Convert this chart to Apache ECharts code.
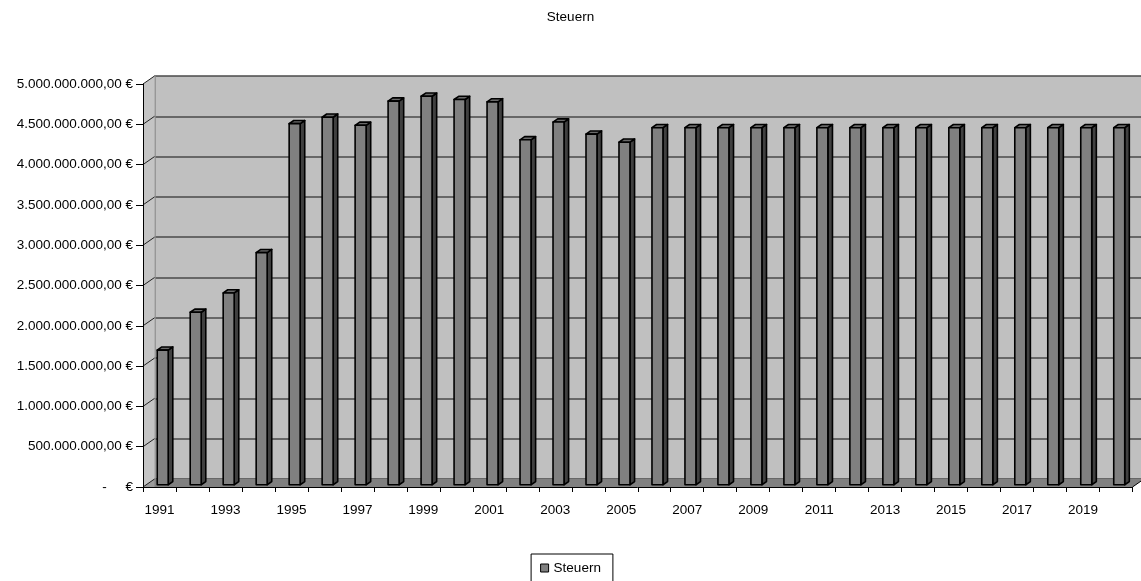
<!DOCTYPE html>
<html>
<head>
<meta charset="utf-8">
<script src="https://cdn.jsdelivr.net/npm/echarts@6/dist/echarts.min.js"></script>
<style>
html,body{margin:0;padding:0;background:#fff;}
#chart{width:1141px;height:581px;}
</style>
</head>
<body>
<div id="chart"></div>
<script>
// ---- data ----
const years = ['1991','1992','1993','1994','1995','1996','1997','1998','1999','2000',
               '2001','2002','2003','2004','2005','2006','2007','2008','2009','2010',
               '2011','2012','2013','2014','2015','2016','2017','2018','2019','2020'];
const steuern = [1.67e9, 2.14e9, 2.38e9, 2.88e9, 4.48e9, 4.56e9, 4.46e9, 4.76e9, 4.82e9, 4.78e9,
                 4.75e9, 4.28e9, 4.50e9, 4.35e9, 4.25e9, 4.43e9, 4.43e9, 4.43e9, 4.43e9, 4.43e9,
                 4.43e9, 4.43e9, 4.43e9, 4.43e9, 4.43e9, 4.43e9, 4.43e9, 4.43e9, 4.43e9, 4.43e9];
const seriesName = 'Steuern';
const titleText = 'Steuern';
const yMin = 0, yMax = 5e9, yInterval = 5e8;

// ---- 3D look constants (style) ----
const DX = 11.5, DY = -8;         // depth of the wall
const F1 = 0.28, F2 = 0.68;       // bar depth range
const BAR_FRAC = 0.333;
const FONT = '"Liberation Sans", Arial, sans-serif';

function fmtEuro(v) {
  if (v === 0) return '-     €';
  return Math.round(v).toString().replace(/\B(?=(\d{3})+(?!\d))/g, '.') + ',00 €';
}

const chart = echarts.init(document.getElementById('chart'), null, {renderer: 'canvas'});

function renderDecor(params, api) {
  const bw = api.size([1, 0])[0];
  const c0 = api.coord([0, yMin]);
  const cN = api.coord([years.length - 1, yMin]);
  const top = api.coord([0, yMax]);
  const xL = c0[0] - bw / 2;
  const xR = cN[0] + bw / 2;
  const yB = c0[1];
  const yT = top[1];
  const children = [];
  children.push({type: 'polygon', shape: {points: [[xL, yB], [xL, yT], [xL + DX, yT + DY], [xL + DX, yB + DY]]},
    style: {fill: '#c4c4c4', stroke: null}});
  children.push({type: 'polygon', shape: {points: [[xL, yB], [xR, yB], [xR + DX, yB + DY], [xL + DX, yB + DY]]},
    style: {fill: '#808080', stroke: null}});
  children.push({type: 'polygon', shape: {points: [[xL, yB], [xL + DX, yB + DY], [xL + DX, yB]]},
    style: {fill: '#9a9a9a', stroke: null}});
  for (let v = yMin; v <= yMax + 1; v += yInterval) {
    const p = api.coord([0, v]);
    children.push({type: 'line', shape: {x1: xL, y1: p[1], x2: xL + DX, y2: p[1] + DY},
      style: {stroke: '#222', lineWidth: 1}});
  }
  children.push({type: 'line', shape: {x1: xR, y1: yB, x2: xR + DX, y2: yB + DY},
    style: {stroke: '#000', lineWidth: 1}});
  return {type: 'group', children};
}

function renderBar(params, api) {
  const i = api.value(0);
  const v = api.value(1);
  const bw = api.size([1, 0])[0];
  const c0 = api.coord([i, 0]);
  const c1 = api.coord([i, v]);
  const w = bw * BAR_FRAC;
  const o1x = DX * F1, o1y = DY * F1;
  const ddx = DX * (F2 - F1), ddy = DY * (F2 - F1);
  const left = c0[0] + o1x - w / 2;
  const yTop = c1[1] + o1y;
  const yBot = c0[1] + o1y;
  const st = {stroke: '#000', lineWidth: 1.6, lineJoin: 'round'};
  return {
    type: 'group',
    children: [
      {type: 'polygon', shape: {points: [[left + w, yTop], [left + w + ddx, yTop + ddy], [left + w + ddx, yBot + ddy], [left + w, yBot]]},
        style: Object.assign({fill: '#404040'}, st)},
      {type: 'polygon', shape: {points: [[left, yTop], [left + w, yTop], [left + w + ddx, yTop + ddy], [left + ddx, yTop + ddy]]},
        style: Object.assign({fill: '#6a6a6a'}, st)},
      {type: 'rect', shape: {x: left, y: yTop, width: w, height: yBot - yTop},
        style: Object.assign({fill: '#808080'}, st)}
    ]
  };
}

const option = {
  animation: false,
  backgroundColor: '#ffffff',
  title: {
    text: titleText, left: 'center', top: 5,
    textStyle: {fontFamily: FONT, fontSize: 13.5, fontWeight: 'normal', color: '#000'}
  },
  legend: {
    top: 554, left: 'center',
    data: [{name: seriesName, icon: 'rect', itemStyle: {color: '#808080', borderColor: '#000', borderWidth: 1}}],
    itemWidth: 8, itemHeight: 8, itemGap: 6,
    borderColor: '#000', borderWidth: 1, padding: [7, 12, 7, 9],
    textStyle: {fontFamily: FONT, fontSize: 13.5, color: '#000'}
  },
  grid: [
    {left: 143, right: 8.5, top: 84, bottom: 94, containLabel: false},
    {left: 143 + DX, right: 8.5 - DX, top: 84 + DY, bottom: 94 - DY, show: true, backgroundColor: '#c0c0c0', borderWidth: 0, containLabel: false}
  ],
  xAxis: [
    {type: 'category', gridIndex: 0, data: years, boundaryGap: true, z: 10,
      axisLine: {lineStyle: {color: '#000', width: 1}},
      axisTick: {show: true, interval: 0, length: 5, lineStyle: {color: '#000'}},
      axisLabel: {interval: 1, margin: 16, color: '#000', fontFamily: FONT, fontSize: 13.5},
      splitLine: {show: false}},
    {type: 'category', gridIndex: 1, data: years, boundaryGap: true, show: false}
  ],
  yAxis: [
    {type: 'value', gridIndex: 0, min: yMin, max: yMax, interval: yInterval, z: 10,
      axisLine: {show: true, lineStyle: {color: '#000', width: 1}},
      axisTick: {show: true, length: 7, lineStyle: {color: '#000'}},
      axisLabel: {margin: 10, color: '#000', fontFamily: FONT, fontSize: 13.5, formatter: fmtEuro},
      splitLine: {show: false}},
    {type: 'value', gridIndex: 1, min: yMin, max: yMax, interval: yInterval,
      axisLine: {show: true, lineStyle: {color: '#8a8a8a', width: 1.5}},
      axisTick: {show: false}, axisLabel: {show: false},
      splitLine: {show: true, lineStyle: {color: '#4a4a4a', width: 1.6}}}
  ],
  series: [
    {type: 'custom', name: '__decor', xAxisIndex: 0, yAxisIndex: 0, z: 1, silent: true,
      renderItem: renderDecor, data: [[0, 0]], clip: false},
    {type: 'custom', name: seriesName, xAxisIndex: 0, yAxisIndex: 0, z: 3,
      itemStyle: {color: '#808080'},
      renderItem: renderBar, clip: false,
      encode: {x: 0, y: 1},
      data: steuern.map((v, i) => [i, v])}
  ]
};
chart.setOption(option);
</script>
</body>
</html>
